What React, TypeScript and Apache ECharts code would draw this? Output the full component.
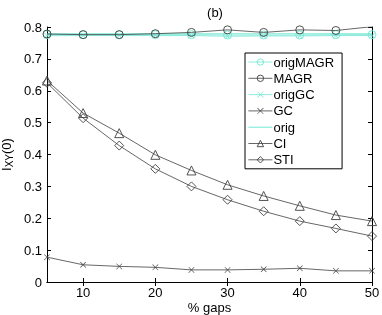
import React, { useEffect, useRef } from "react";
import * as echarts from "echarts";

const gaps = [5, 10, 15, 20, 25, 30, 35, 40, 45, 50];
const origMAGR = [0.776, 0.776, 0.776, 0.776, 0.776, 0.775, 0.775, 0.775, 0.776, 0.776];
const MAGR = [0.778, 0.776, 0.776, 0.779, 0.783, 0.791, 0.783, 0.791, 0.789, 0.801];
const origGC = [0.773, 0.773, 0.773, 0.773, 0.773, 0.771, 0.772, 0.772, 0.773, 0.773];
const GC = [0.078, 0.054, 0.049, 0.046, 0.038, 0.038, 0.04, 0.043, 0.035, 0.035];
const orig = [0.779, 0.779, 0.779, 0.779, 0.779, 0.779, 0.779, 0.779, 0.779, 0.779];
const CI = [0.632, 0.53, 0.467, 0.399, 0.35, 0.305, 0.27, 0.239, 0.21, 0.191];
const STI = [0.625, 0.514, 0.428, 0.355, 0.3, 0.258, 0.222, 0.191, 0.168, 0.144];
const xTicks = [10, 20, 30, 40, 50];

const CYAN = "#6ee6d2";
const DARK = "#404040";
const FONT = "Liberation Sans";
const CROSS = "path://M0,0.7L0.7,0L5,4.3L9.3,0L10,0.7L5.7,5L10,9.3L9.3,10L5,5.7L0.7,10L0,9.3L4.3,5Z";
const CIRCLE = "path://M5,0A5,5 0 1,1 5,10A5,5 0 1,1 5,0Z";
const TRIANGLE = "path://M5,0L10,9L0,9Z";
const DIAMOND = "path://M5,0L10,5L5,10L0,5Z";
const LINE_ICON = "path://M0,0H25V1H0Z";
const CLEAR = "rgba(255,255,255,0)";

const pairs = (ys: number[]) => gaps.map((x, i) => [x, ys[i]]);
const markStyle = (color: string, filled: boolean) => ({
  color: filled ? color : CLEAR,
  borderColor: color,
  borderWidth: filled ? 0 : 0.9,
});

export default function App() {
  const ref = useRef<HTMLDivElement>(null);
  useEffect(() => {
    if (!ref.current) return;
    const chart = echarts.init(ref.current, null, { renderer: "svg" });
    const mk = (
      name: string,
      data: number[],
      color: string,
      symbol: string,
      size: number,
      filled: boolean,
      z: number
    ) => ({
      name,
      type: "line",
      data: pairs(data),
      symbol,
      symbolSize: size,
      showSymbol: symbol !== "none",
      z,
      lineStyle: { color, width: 0.8 },
      itemStyle: markStyle(color, filled),
      emphasis: { disabled: true },
    });
    const legendItem = (name: string, color: string, filled: boolean) => ({
      name,
      itemStyle: markStyle(color, filled),
      lineStyle: { color, width: 0.8 },
    });
    const axisCommon = {
      axisLine: { show: true, lineStyle: { color: "#000", width: 1 } },
      axisTick: { show: true, inside: true, length: 4, lineStyle: { color: "#000" } },
      splitLine: { show: false },
    };
    chart.setOption({
      animation: false,
      title: {
        text: "(b)",
        left: 210,
        top: 1,
        textAlign: "center",
        textStyle: { fontFamily: FONT, fontSize: 13, fontWeight: "normal", color: "#000" },
      },
      grid: { left: 47, right: 10, top: 27, bottom: 33, containLabel: false, outerBoundsMode: "none" },
      legend: {
        orient: "vertical",
        left: 245,
        top: 53,
        backgroundColor: "#fff",
        borderColor: "#000",
        borderWidth: 1,
        borderRadius: 0,
        padding: [2, 8, 2, 3],
        itemWidth: 24,
        itemHeight: 8,
        itemGap: 2.3,
        textStyle: { fontFamily: FONT, fontSize: 13, color: "#000", lineHeight: 14, padding: [0, 0, 0, -4] },
        data: [
          legendItem("origMAGR", CYAN, false),
          legendItem("MAGR", DARK, false),
          legendItem("origGC", CYAN, true),
          legendItem("GC", DARK, true),
          { name: "orig", icon: LINE_ICON, itemStyle: { color: CYAN, borderWidth: 0 } },
          legendItem("CI", DARK, false),
          legendItem("STI", DARK, false),
        ],
      },
      xAxis: [
        {
          type: "value",
          min: 5,
          max: 50,
          ...axisCommon,
          axisTick: { ...axisCommon.axisTick, customValues: xTicks },
          axisLabel: { customValues: xTicks, fontFamily: FONT, fontSize: 13, color: "#000", margin: 4 },
          name: "% gaps",
          nameLocation: "middle",
          nameGap: 19,
          nameMoveOverlap: false,
          nameTextStyle: { fontFamily: FONT, fontSize: 13, color: "#000" },
        },
        {
          type: "value",
          min: 5,
          max: 50,
          position: "top",
          ...axisCommon,
          axisTick: { ...axisCommon.axisTick, customValues: xTicks },
          axisLabel: { show: false, customValues: xTicks },
        },
      ],
      yAxis: [
        {
          type: "value",
          min: 0,
          max: 0.8,
          interval: 0.1,
          ...axisCommon,
          axisLabel: {
            fontFamily: FONT,
            fontSize: 13,
            color: "#000",
            margin: 5,
            formatter: (v: number) => (v === 0 ? "0" : v.toFixed(1)),
          },
          name: "{m|I}{s|XY}{m|(0)}",
          nameLocation: "middle",
          nameGap: 33,
          nameMoveOverlap: false,
          nameRotate: 90,
          nameTextStyle: {
            rich: {
              m: { fontFamily: FONT, fontSize: 13, color: "#000" },
              s: { fontFamily: FONT, fontSize: 10, color: "#000", verticalAlign: "bottom", padding: [6, 0, 0, 0] },
            },
          },
        },
        {
          type: "value",
          min: 0,
          max: 0.8,
          interval: 0.1,
          position: "right",
          ...axisCommon,
          axisLabel: { show: false },
        },
      ],
      series: [
        mk("origMAGR", origMAGR, CYAN, CIRCLE, 8, false, 3),
        mk("MAGR", MAGR, DARK, CIRCLE, 8, false, 4),
        mk("origGC", origGC, CYAN, CROSS, 6, true, 3),
        mk("GC", GC, DARK, CROSS, 6, true, 4),
        mk("orig", orig, CYAN, "none", 6, true, 3),
        mk("CI", CI, DARK, TRIANGLE, 9, false, 4),
        mk("STI", STI, DARK, DIAMOND, 9, false, 4),
      ],
    });
    return () => chart.dispose();
  }, []);
  return <div ref={ref} style={{ position: "fixed", left: 0, top: 0, width: 382, height: 315 }} />;
}
